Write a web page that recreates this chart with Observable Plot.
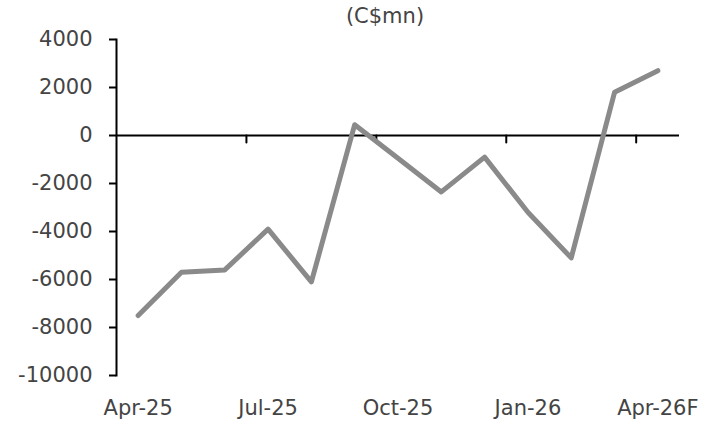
<!DOCTYPE html>
<html><head><meta charset="utf-8">
<script src="https://cdn.jsdelivr.net/npm/d3@7"></script>
<script src="https://cdn.jsdelivr.net/npm/@observablehq/plot@0.6"></script>
<style>body{margin:0;background:#fff}</style>
</head><body><div id="chart"></div>
<script>
const months = ["Apr-25","May-25","Jun-25","Jul-25","Aug-25","Sep-25","Oct-25","Nov-25","Dec-25","Jan-26","Feb-26","Mar-26","Apr-26F"];
const values = [-7500,-5700,-5600,-3900,-6100,450,-950,-2350,-900,-3200,-5100,1800,2700];
const tickLabels = ["Apr-25","Jul-25","Oct-25","Jan-26","Apr-26F"];
const yTicks = [-10000,-8000,-6000,-4000,-2000,0,2000,4000];
const unitTitle = "(C$mn)";

const data = months.map((m, i) => ({i, m, v: values[i]}));
const labelIdx = tickLabels.map(l => months.indexOf(l));
const boundaries = labelIdx.slice(1).map(k => k - 0.5);

const tickShape = {draw(ctx, l) { ctx.moveTo(0, 0); ctx.lineTo(0, -l); }};

const chart = Plot.plot({
  width: 720,
  height: 424,
  marginTop: 39,
  marginBottom: 49,
  marginLeft: 116,
  marginRight: 41,
  style: {fontFamily: "'DejaVu Sans', sans-serif", fontSize: "21px", background: "#fff"},
  x: {domain: [-0.5, months.length - 0.5]},
  y: {domain: [-10000, 4000]},
  marks: [
    Plot.axisY({ticks: yTicks, tickSize: 7, tickPadding: 17, strokeWidth: 2, stroke: "#000", fill: "#444",
      tickFormat: d => String(d), label: null}),
    Plot.axisX({ticks: labelIdx, tickSize: 0, tickPadding: 25, fill: "#444",
      tickFormat: i => months[i], label: null}),
    Plot.frame({anchor: "left", stroke: "#000", strokeWidth: 2}),
    Plot.ruleY([0], {stroke: "#000", strokeWidth: 2}),
    Plot.vector(boundaries, {x: d => d, y: 0, length: 7, rotate: 180, anchor: "start", shape: tickShape, stroke: "#000", strokeWidth: 2}),
    Plot.line(data, {x: "i", y: "v", stroke: "#8a8a8a", strokeWidth: 5, strokeLinejoin: "round", strokeLinecap: "round"}),
    Plot.text([unitTitle], {frameAnchor: "top", dy: -31, dx: -13, fill: "#444", fontSize: 21})
  ]
});
document.getElementById("chart").appendChild(chart);
</script>
</body></html>
